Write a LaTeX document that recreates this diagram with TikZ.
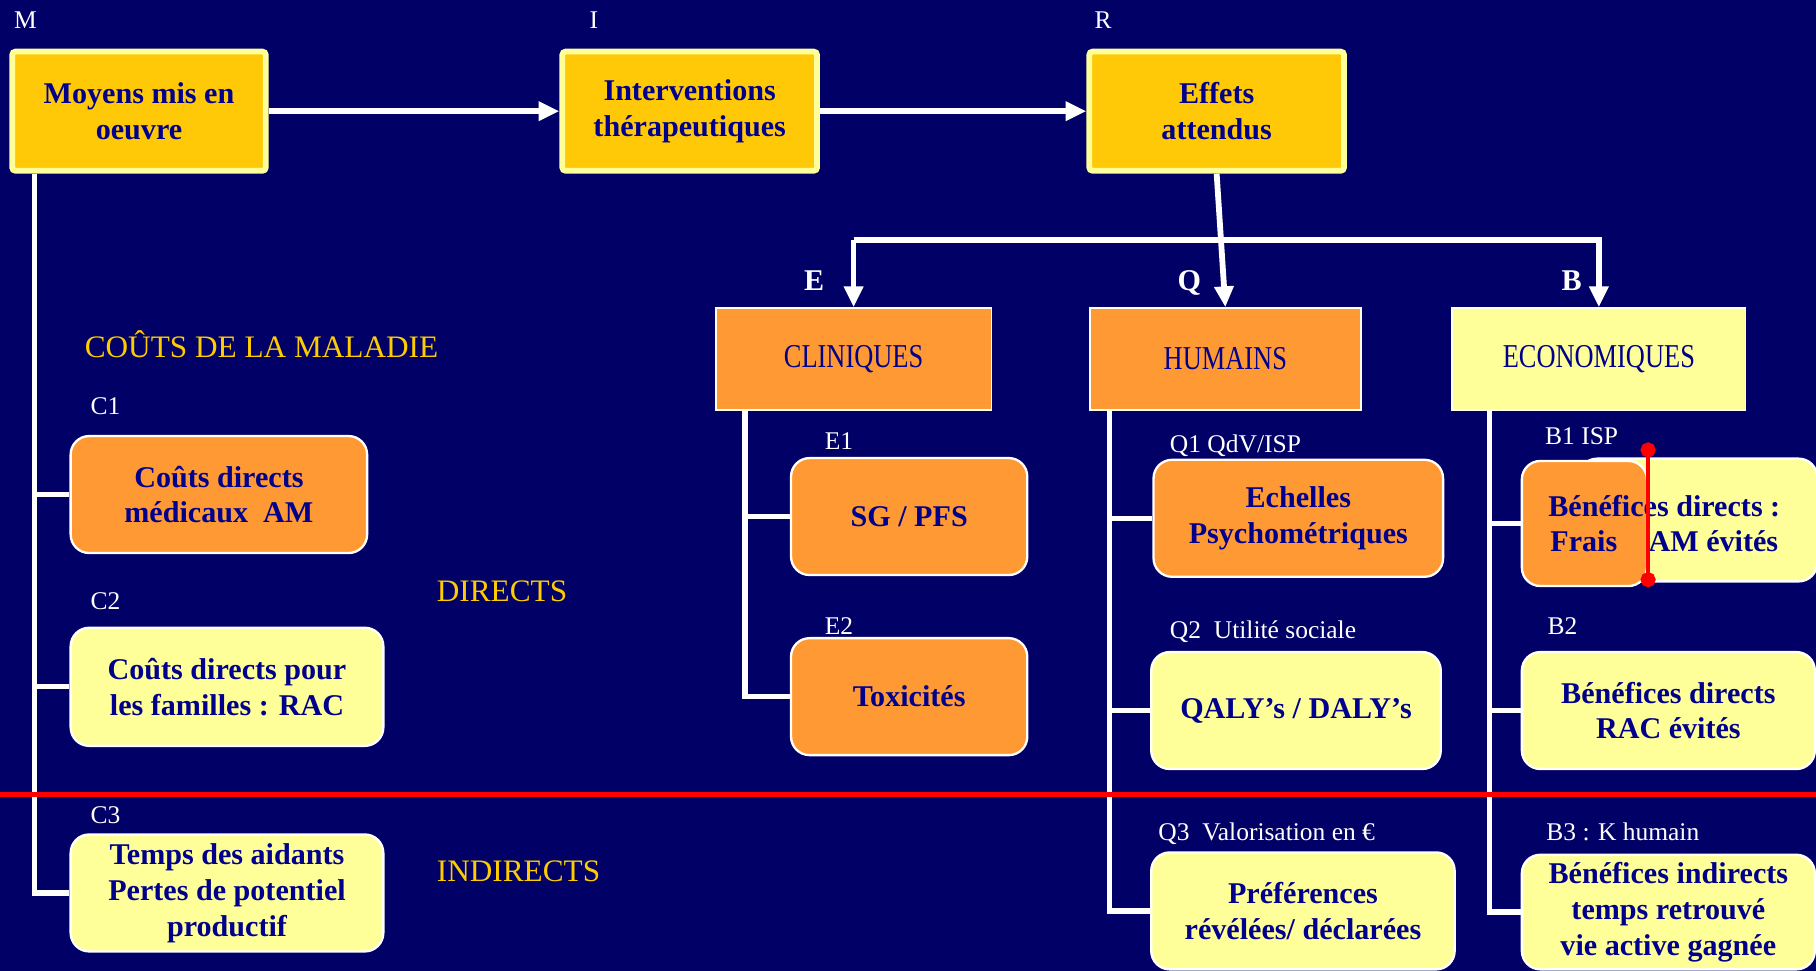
\documentclass[tikz,border=0pt]{standalone}
\usepackage{fontspec}
\setmainfont{Liberation Serif}
\usepackage{tikz}
\usetikzlibrary{arrows.meta, positioning, calc}
\definecolor{mirnavy}{HTML}{000066}
\definecolor{mirgold}{HTML}{FFC908}
\definecolor{mirpale}{HTML}{FFFF99}
\definecolor{mirorange}{HTML}{FF9933}
\definecolor{mirink}{HTML}{00008C}
\definecolor{mirtitle}{HTML}{FFCC00}
\newcommand{\tallcaps}[1]{\scalebox{0.95}[1.2]{#1}}

\begin{document}
\begin{tikzpicture}[
    x=1pt, y=-1pt,
    boxtext/.style={text=mirink,align=center,font=\fontsize{26}{31}\selectfont\bfseries},
    stage/.style={boxtext,draw=mirpale,line width=5pt,fill=mirgold,rounded corners=3pt,minimum width=219pt,minimum height=103pt,inner sep=0pt},
    family/.style={draw=white!85!mirpale,line width=1.5pt,minimum width=238pt,minimum height=88pt,text=mirink,font=\fontsize{24}{29}\selectfont,inner sep=0pt},
    item/.style={boxtext,draw=white,line width=2pt,rounded corners=16pt,minimum height=101pt,inner sep=0pt},
    hot/.style={fill=mirorange},
    cool/.style={fill=mirpale},
    tag/.style={text=white,font=\fontsize{22}{26}\selectfont,anchor=base west,inner sep=0pt},
    letter/.style={text=white,font=\fontsize{26}{30}\selectfont\bfseries,anchor=base,inner sep=0pt},
    costhead/.style={text=mirtitle,font=\fontsize{27}{32}\selectfont,anchor=base west,inner sep=0pt},
    link/.style={draw=white,line width=4.5pt},
    flow/.style={link,line width=5pt,-{Triangle[length=18pt,width=16pt]}},
    cutline/.style={draw=red,line width=4pt,{Circle[length=13pt]}-{Circle[length=13pt]}},
    divider/.style={draw=red,line width=5pt},
  ]
    \fill[mirnavy] (0,0) rectangle (1568,838);
    \useasboundingbox (0,0) rectangle (1568,838);

    % M -> I -> R
    \node[stage] (moyens) at (120,96) {Moyens mis en\\oeuvre};
    \node[stage, minimum width=220pt] (interv) at (595.5,96) {Interventions\\thérapeutiques};
    \node[stage, minimum width=220pt] (effets) at (1050.5,96) {Effets\\attendus};
    \node[tag] (mtag) at (12,25) {M};
    \node[tag] (itag) at (509,25) {I};
    \node[tag] (rtag) at (945,25) {R};

    \draw[flow] (moyens) -- (interv);
    \draw[flow] (interv) -- (effets);

    % effets attendus
    \node[family, hot] (clin) at (737,310) {\tallcaps{CLINIQUES}};
    \node[family, hot, minimum width=234pt] (hum) at (1058,310) {\tallcaps{HUMAINS}};
    \node[family, cool, minimum width=253pt] (econ) at (1380.5,310) {\tallcaps{ECONOMIQUES}};
    \node[letter] (eletter) at (703,251) {E};
    \node[letter] (qletter) at (1027,251) {Q};
    \node[letter] (bletter) at (1357,251) {B};

    \coordinate (split) at (1050,207);
    \draw[flow] (effets.south) -- (hum.north);
    \draw[flow] (split -| clin.north) -- (clin.north);
    \draw[flow] (split -| clin.north) -| (econ.north);

    % couts de la maladie
    \node[costhead] (maladie) at (73,309) {COÛTS DE LA MALADIE};
    \node[costhead] (directs) at (377,519) {DIRECTS};
    \node[costhead] (indirects) at (377,761) {INDIRECTS};

    \node[item, hot, minimum width=256pt] (c1) at (189,427) {Coûts directs\\médicaux~~AM};
    \node[item, cool, minimum width=270pt, minimum height=102pt] (c2) at (196,593) {Coûts directs pour\\les familles : RAC};
    \node[item, cool, minimum width=270pt] (c3) at (196,771) {Temps des aidants\\Pertes de potentiel\\productif};
    \node[tag] (c1tag) at (78,358) {C1};
    \node[tag] (c2tag) at (78,526) {C2};
    \node[tag] (c3tag) at (78,711) {C3};

    \coordinate (ctrunk) at ([xshift=22pt]moyens.south west);
    \draw[link] (ctrunk) |- (c3.west);
    \draw[link] (ctrunk |- c1.west) -- (c1.west);
    \draw[link] (ctrunk |- c2.west) -- (c2.west);

    % cliniques
    \node[item, hot, minimum width=204pt] (e1) at (785,446) {SG / PFS};
    \node[item, hot, minimum width=204pt] (e2) at (785,601.5) {Toxicités};
    \node[tag] (e1tag) at (712,388) {E1};
    \node[tag] (e2tag) at (712,548) {E2};

    \coordinate (etrunk) at ([xshift=26pt]clin.south west);
    \draw[link] (etrunk) |- (e2.west);
    \draw[link] (etrunk |- e1.west) -- (e1.west);

    % humains
    \node[item, hot, minimum width=250pt] (q1) at (1121,447.5) {Echelles\\Psychométriques};
    \node[item, cool, minimum width=250pt] (q2) at (1119,613.5) {QALY’s / DALY’s};
    \node[item, cool, minimum width=262pt] (q3) at (1125,786.5) {Préférences\\révélées/ déclarées};
    \node[tag] (q1tag) at (1010,391) {Q1 QdV/ISP};
    \node[tag] (q2tag) at (1010,551) {Q2~~Utilité sociale};
    \node[tag] (q3tag) at (1000,726) {Q3~~Valorisation en €};

    \coordinate (qtrunk) at ([xshift=18pt]hum.south west);
    \draw[link] (qtrunk) |- (q3.west);
    \draw[link] (qtrunk |- q1.west) -- (q1.west);
    \draw[link] (qtrunk |- q2.west) -- (q2.west);

    % economiques
    \node[item, cool, minimum width=206pt, minimum height=106pt] (b1back) at (1466,449) {};
    \node[item, hot, minimum width=108pt, minimum height=108pt] (b1front) at (1368,452) {};
    \node[boxtext] (b1text) at ([xshift=14pt]b1front.east) {Bénéfices directs :\\Frais\hspace{27pt}AM évités};
    \node[item, cool, minimum width=253pt] (b2) at (1440.5,613.5) {Bénéfices directs\\RAC évités};
    \node[item, cool, minimum width=253pt, minimum height=99pt] (b3) at (1440.5,787.5) {Bénéfices indirects\\temps retrouvé\\vie active gagnée};
    \node[tag] (b1tag) at (1334,384) {B1 ISP};
    \node[tag] (b2tag) at (1336,548) {B2};
    \node[tag] (b3tag) at (1335,726) {B3 : K humain};

    \coordinate (btrunk) at ([xshift=33pt]econ.south west);
    \draw[link] (btrunk) |- (b3.west);
    \draw[link] (btrunk |- b1front.west) -- (b1front.west);
    \draw[link] (btrunk |- b2.west) -- (b2.west);

    \draw[cutline] ([yshift=125pt]b1front.south east) -- (b1front.south east);

    % directs / indirects
    \draw[divider] (0,686) -- (1568,686);
\end{tikzpicture}
\end{document}
